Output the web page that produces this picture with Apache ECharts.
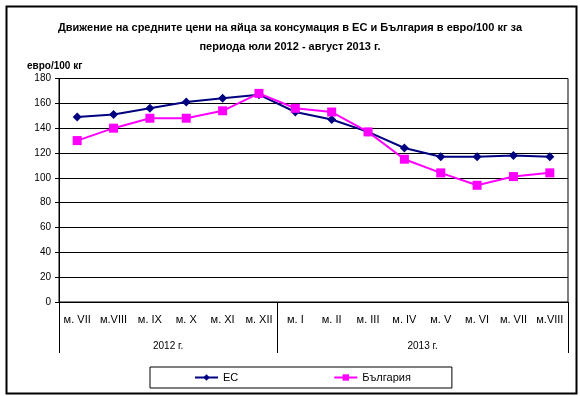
<!DOCTYPE html>
<html>
<head>
<meta charset="utf-8">
<script src="https://cdn.jsdelivr.net/npm/echarts@6/dist/echarts.min.js"></script>
<style>
  html, body { margin: 0; padding: 0; background: #fff; }
  #chart { width: 580px; height: 396px; }
</style>
</head>
<body>
<div id="chart"></div>
<script>
// месеци и години по оста X
const months = ["м. VII", "м.VIII", "м. IX", "м. X", "м. XI", "м. XII", "м. I", "м. II", "м. III", "м. IV", "м. V", "м. VI", "м. VII", "м.VIII"];
const years = ["2012 г.", "2013 г."];
const yearSpans = [6, 8];

// цени, евро/100 кг
const euValues = [149, 151, 156, 161, 164, 167, 153, 147, 137, 124, 117, 117, 118, 117];
const bgValues = [130, 140, 148, 148, 154, 168, 156, 153, 137, 115, 104, 94, 101, 104];

// втората ос е разделена на половин месеци, за да се центрират годините
const halfSlots = [];
const yearTicks = new Set([0]);
let pos = 0;
years.forEach((y, i) => {
  const n = yearSpans[i] * 2;
  for (let k = 0; k < n; k++) halfSlots.push(k === n / 2 ? y : "");
  pos += n;
  yearTicks.add(pos);
});
halfSlots.push("");

const FONT = "Liberation Sans";
const chart = echarts.init(document.getElementById("chart"), null, { renderer: "canvas" });
chart.setOption({
  backgroundColor: "#fff",
  animation: false,
  title: [
    {
      text: "Движение на средните цени на яйца за консумация в ЕС и България в евро/100 кг за\nпериода юли 2012 - август 2013 г.",
      left: "center", top: 13,
      textStyle: { fontFamily: FONT, fontWeight: "bold", fontSize: 11, lineHeight: 19, color: "#000" }
    },
    {
      text: "евро/100 кг", left: 22, top: 56,
      textStyle: { fontFamily: FONT, fontWeight: "bold", fontSize: 10, color: "#000" }
    }
  ],
  graphic: [{
    type: "rect", left: 4, top: 4, silent: true,
    shape: { width: 570, height: 387 },
    style: { fill: "none", stroke: "#000", lineWidth: 2 }
  }],
  legend: {
    left: 150, top: 367,
    padding: [5, 41, 5, 44],
    itemWidth: 23, itemHeight: 8, itemGap: 95,
    borderColor: "#000", borderWidth: 1,
    textStyle: { fontFamily: FONT, fontSize: 11, color: "#000" },
    data: ["ЕС", "България"]
  },
  grid: {
    left: 59, right: 12, top: 78.5, bottom: 94,
    show: true, borderColor: "#000", borderWidth: 1, backgroundColor: "#fff"
  },
  xAxis: [
    {
      type: "category", data: months, boundaryGap: true,
      axisLine: { lineStyle: { color: "#000", width: 1 } },
      axisTick: { interval: 0, length: 26, lineStyle: { color: "#000" } },
      axisLabel: { interval: 0, margin: 12, fontFamily: FONT, fontSize: 11, color: "#000" }
    },
    {
      type: "category", data: halfSlots, boundaryGap: false, position: "bottom",
      axisLine: { show: false },
      axisTick: { interval: (i) => yearTicks.has(i), length: 51, lineStyle: { color: "#000" } },
      axisLabel: { interval: 0, margin: 39, fontFamily: FONT, fontSize: 10, color: "#000" }
    }
  ],
  yAxis: {
    type: "value", min: 0, max: 180, interval: 20,
    axisLine: { show: true, lineStyle: { color: "#000" } },
    axisTick: { show: true, length: 4, lineStyle: { color: "#000" } },
    axisLabel: { margin: 8, fontFamily: FONT, fontSize: 10, color: "#000" },
    splitLine: { lineStyle: { color: "#000", width: 1 } }
  },
  series: [
    {
      name: "ЕС", type: "line", data: euValues,
      symbol: "diamond", symbolSize: 9,
      lineStyle: { color: "#000080", width: 2 },
      itemStyle: { color: "#000080" }
    },
    {
      name: "България", type: "line", data: bgValues,
      symbol: "rect", symbolSize: 9,
      lineStyle: { color: "#ff00ff", width: 2 },
      itemStyle: { color: "#ff00ff" }
    }
  ]
});
</script>
</body>
</html>
